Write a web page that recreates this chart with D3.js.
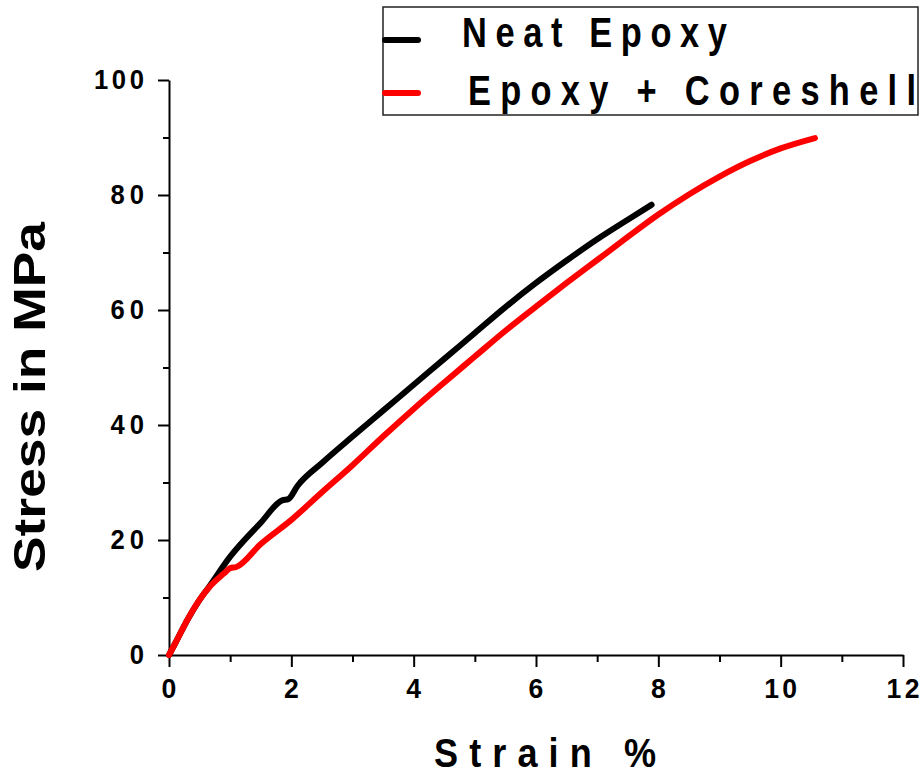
<!DOCTYPE html>
<meta charset="utf-8">
<style>
body { margin: 0; background: #fff; }
svg { display: block; }
text { font-family: "Liberation Sans", Arial, sans-serif; font-weight: bold; fill: #000; }
.axis path, .axis line { stroke: #000; stroke-width: 2px; }
.curve { fill: none; stroke-width: 6px; stroke-linecap: round; stroke-linejoin: round; }
</style>
<body>
<svg width="921" height="781"></svg>
<script src="https://d3js.org/d3.v7.min.js"></script>
<script>

// series
var neatStrain = [0, 0.1, 0.3, 0.5, 0.65, 1, 1.5, 1.85, 1.95, 2.1, 2.5, 3, 3.5, 4, 4.5, 5, 5.5, 6, 6.5, 7, 7.5, 7.89];
var neatStress = [0, 2, 6.1, 9.6, 11.8, 17.1, 23.0, 26.9, 27.1, 29.4, 33.4, 38, 42.5, 47, 51.5, 56, 60.5, 64.7, 68.6, 72.3, 75.7, 78.3];

var coreStrain = [0, 0.1, 0.3, 0.5, 0.65, 0.9, 1.0, 1.1, 1.5, 2, 2.5, 3, 3.5, 4, 4.5, 5, 5.5, 6, 6.5, 7, 7.5, 8, 8.5, 9, 9.5, 10, 10.56];
var coreStress = [0, 2, 6.1, 9.6, 11.7, 14.2, 15.1, 15.3, 19.3, 23.5, 28.3, 33, 38, 42.8, 47.4, 51.9, 56.4, 60.6, 64.7, 68.7, 72.7, 76.6, 80.1, 83.2, 85.9, 88.1, 89.9];

var xTicks = [0, 2, 4, 6, 8, 10, 12];
var yTicks = [0, 20, 40, 60, 80, 100];
var legendNames = ["Neat Epoxy", "Epoxy + Coreshell"];
var colors = ["#000000", "#ff0000"];

var svg = d3.select("svg");

var x = d3.scaleLinear().domain([0, 12]).range([169, 903]);
var y = d3.scaleLinear().domain([0, 100]).range([655, 80]);

// narrow glyphs, spread out to a given width (like the original's condensed bold)
function spacedText(str, px, py, size, width, anchor, sx) {
  return svg.append("text")
      .attr("transform", "translate(" + px + "," + py + ") scale(" + sx + ",1)")
      .attr("text-anchor", anchor)
      .attr("font-size", size)
      .attr("textLength", width / sx)
      .attr("lengthAdjust", "spacing")
      .text(str);
}

// minor ticks
svg.append("g")
    .attr("class", "axis")
    .attr("transform", "translate(0,655)")
    .call(d3.axisBottom(x).tickValues(d3.range(1, 12, 2)).tickSize(7).tickFormat(""))
    .select(".domain").remove();
svg.append("g")
    .attr("class", "axis")
    .attr("transform", "translate(169,0)")
    .call(d3.axisLeft(y).tickValues(d3.range(10, 100, 20)).tickSize(6).tickFormat(""))
    .select(".domain").remove();

// major ticks + axis lines
svg.append("g")
    .attr("class", "axis")
    .attr("transform", "translate(0,655)")
    .call(d3.axisBottom(x).tickValues(xTicks).tickSize(12).tickSizeOuter(0).tickFormat(""));
svg.append("g")
    .attr("class", "axis")
    .attr("transform", "translate(169,0)")
    .call(d3.axisLeft(y).tickValues(yTicks).tickSize(11).tickSizeOuter(0).tickFormat(""));

xTicks.forEach(function(d) {
  var s = String(d);
  spacedText(s, x(d), 698, 28, s.length * 16.5, "middle", 0.95);
});
yTicks.forEach(function(d) {
  var s = String(d);
  spacedText(s, 144, y(d) + 9, 27, s.length * 16.7, "end", 0.95);
});

var line = d3.line()
    .x(function(d) { return x(d[0]); })
    .y(function(d) { return y(d[1]); })
    .curve(d3.curveMonotoneX);

svg.append("path")
    .attr("class", "curve")
    .attr("stroke", colors[0])
    .attr("d", line(d3.zip(neatStrain, neatStress)));
svg.append("path")
    .attr("class", "curve")
    .attr("stroke", colors[1])
    .attr("d", line(d3.zip(coreStrain, coreStress)));

// axis titles
spacedText("Strain %", 545, 767, 41, 222, "middle", 0.88);
svg.append("text")
    .attr("transform", "translate(45,397) rotate(-90)")
    .attr("text-anchor", "middle")
    .attr("font-size", 44)
    .attr("textLength", 350)
    .attr("lengthAdjust", "spacingAndGlyphs")
    .text("Stress in MPa");

// legend
svg.append("rect")
    .attr("x", 383).attr("y", 7)
    .attr("width", 535).attr("height", 108)
    .attr("fill", "#fff")
    .attr("stroke", "#222")
    .attr("stroke-width", 1.5);

var legendY = [40, 93];
var textX = [462, 468];
var textLen = [265, 448];
var baseY = [47, 105];
legendNames.forEach(function(name, i) {
  svg.append("line")
      .attr("x1", 385).attr("x2", 418)
      .attr("y1", legendY[i]).attr("y2", legendY[i])
      .attr("stroke", colors[i])
      .attr("stroke-width", 6)
      .attr("stroke-linecap", "round");
  spacedText(name, textX[i], baseY[i], 43, textLen[i], "start", 0.8);
});

</script>
</body>
